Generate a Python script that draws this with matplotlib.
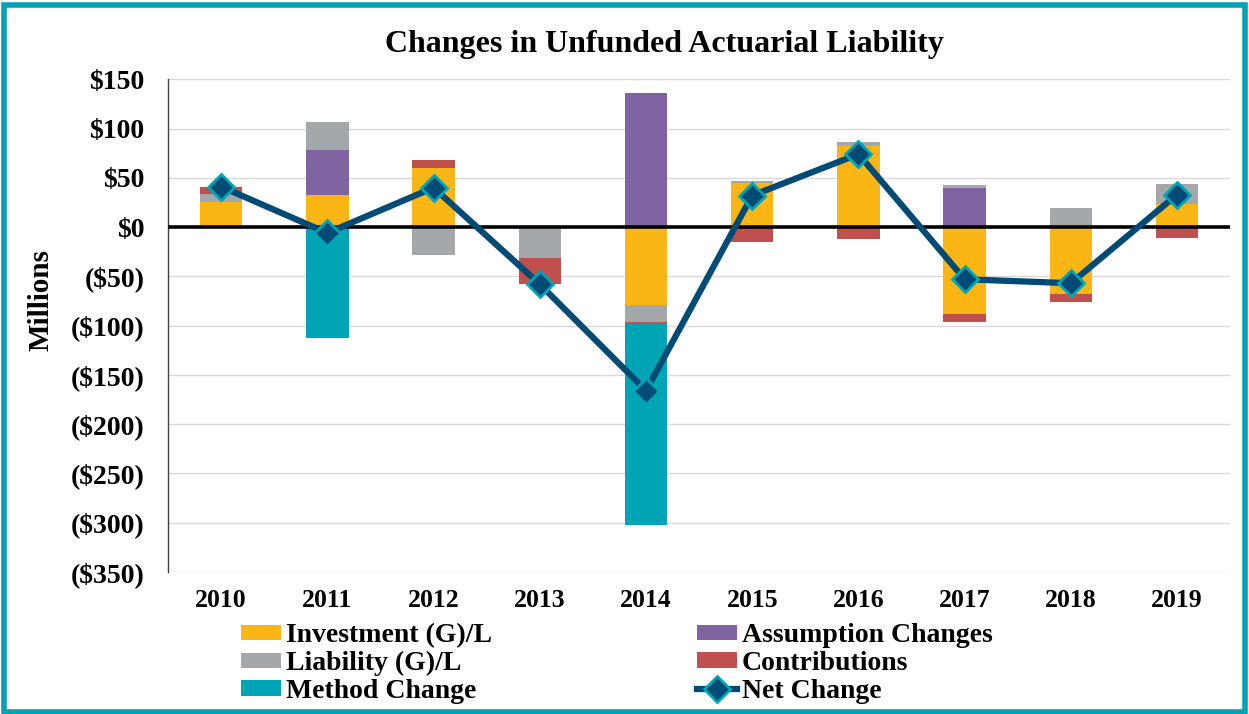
import numpy as np
from matplotlib import pyplot as plt
from matplotlib.patches import Rectangle
from matplotlib.ticker import FuncFormatter

years = ['2010', '2011', '2012', '2013', '2014', '2015', '2016', '2017', '2018', '2019']

# values in $ millions
investment = [25, 33, 60, 0, -79, 45, 82, -88, -68, 23]
assumption = [0, 45, 0, 0, 136, 0, 0, 40, 0, 0]
liability = [9, 29, -28, -31, -17, 2, 4, 3, 19, 21]
contributions = [7, 0, 8, -27, -1, -15, -12, -8, -8, -11]
method = [0, -113, 0, 0, -205, 0, 0, 0, 0, 0]
net_change = [41, -6, 40, -58, -166, 32, 74, -53, -57, 33]

series_names = ['Investment (G)/L', 'Assumption Changes', 'Liability (G)/L',
                'Contributions', 'Method Change']
series_colors = ['#FBB616', '#8064A2', '#A5A8AB', '#C0504D', '#00A5B5']

plt.rcParams['font.family'] = ['Liberation Serif', 'DejaVu Serif']
plt.rcParams['font.weight'] = 'bold'

fig = plt.figure(figsize=(12.49, 7.14), dpi=100)
ax = fig.add_axes([0.1345, 0.199, 0.8505, 0.69])

x = np.arange(len(years))
width = 0.4
pos_base = np.zeros(len(years))
neg_base = np.zeros(len(years))
handles = {}
for name, vals, col in zip(series_names,
                           [investment, assumption, liability, contributions, method],
                           series_colors):
    vals = np.array(vals, dtype=float)
    base = np.where(vals >= 0, pos_base, neg_base)
    b = ax.bar(x, vals, width, bottom=base, color=col, label=name, zorder=2)
    handles[name] = b
    pos_base += np.where(vals > 0, vals, 0)
    neg_base += np.where(vals < 0, vals, 0)

ax.axhline(0, color='black', lw=2.6, zorder=3)

line, = ax.plot(x, net_change, color='#004B76', lw=4.5, marker='D', markersize=13,
                markerfacecolor='#004B76', markeredgecolor='#00A5B5',
                markeredgewidth=2, label='Net Change', zorder=4)

ax.set_xlim(-0.5, len(years) - 0.5)
ax.set_ylim(-350, 150)
ax.set_yticks(np.arange(-350, 151, 50))
ax.yaxis.set_major_formatter(FuncFormatter(
    lambda v, p: '$0' if v == 0 else ('${:.0f}'.format(v) if v > 0 else '(${:.0f})'.format(-v))))
ax.set_xticks(x)
ax.set_xticklabels(years)
ax.tick_params(axis='y', length=0, labelsize=20, pad=17)
ax.tick_params(axis='x', length=0, labelsize=18.5, pad=12)
for lbl in ax.get_xticklabels() + ax.get_yticklabels():
    lbl.set_fontweight('bold')

ax.grid(axis='y', color='#D9D9D9', lw=1, zorder=0)
ax.set_axisbelow(True)
for s in ['top', 'right', 'bottom']:
    ax.spines[s].set_visible(False)
ax.spines['left'].set_color('#404040')
ax.spines['left'].set_linewidth(1)

fig.text(0.033, 0.58, 'Millions', rotation=90, ha='center', va='center',
         fontsize=21, fontweight='bold')
fig.text(0.532, 0.938, 'Changes in Unfunded Actuarial Liability', ha='center', va='center',
         fontsize=23, fontweight='bold')

order = ['Investment (G)/L', 'Liability (G)/L', 'Method Change',
         'Assumption Changes', 'Contributions']
leg_handles = [handles[n] for n in order[:3]] + [handles[n] for n in order[3:]] + [line]
leg_labels = order[:3] + order[3:] + ['Net Change']
fig.legend(leg_handles, leg_labels, loc='upper left', bbox_to_anchor=(0.193, 0.127),
           ncol=2, frameon=False, handlelength=1.45, handleheight=0.5,
           handletextpad=0.15, labelspacing=0.1, columnspacing=7.4,
           borderpad=0, borderaxespad=0,
           prop={'weight': 'bold', 'size': 20})

fig.patches.append(Rectangle((0.003, 0.003), 0.994, 0.990, transform=fig.transFigure,
                             fill=False, edgecolor='#00A3B4', lw=4, zorder=10))

fig.savefig('out.png', dpi=100)
